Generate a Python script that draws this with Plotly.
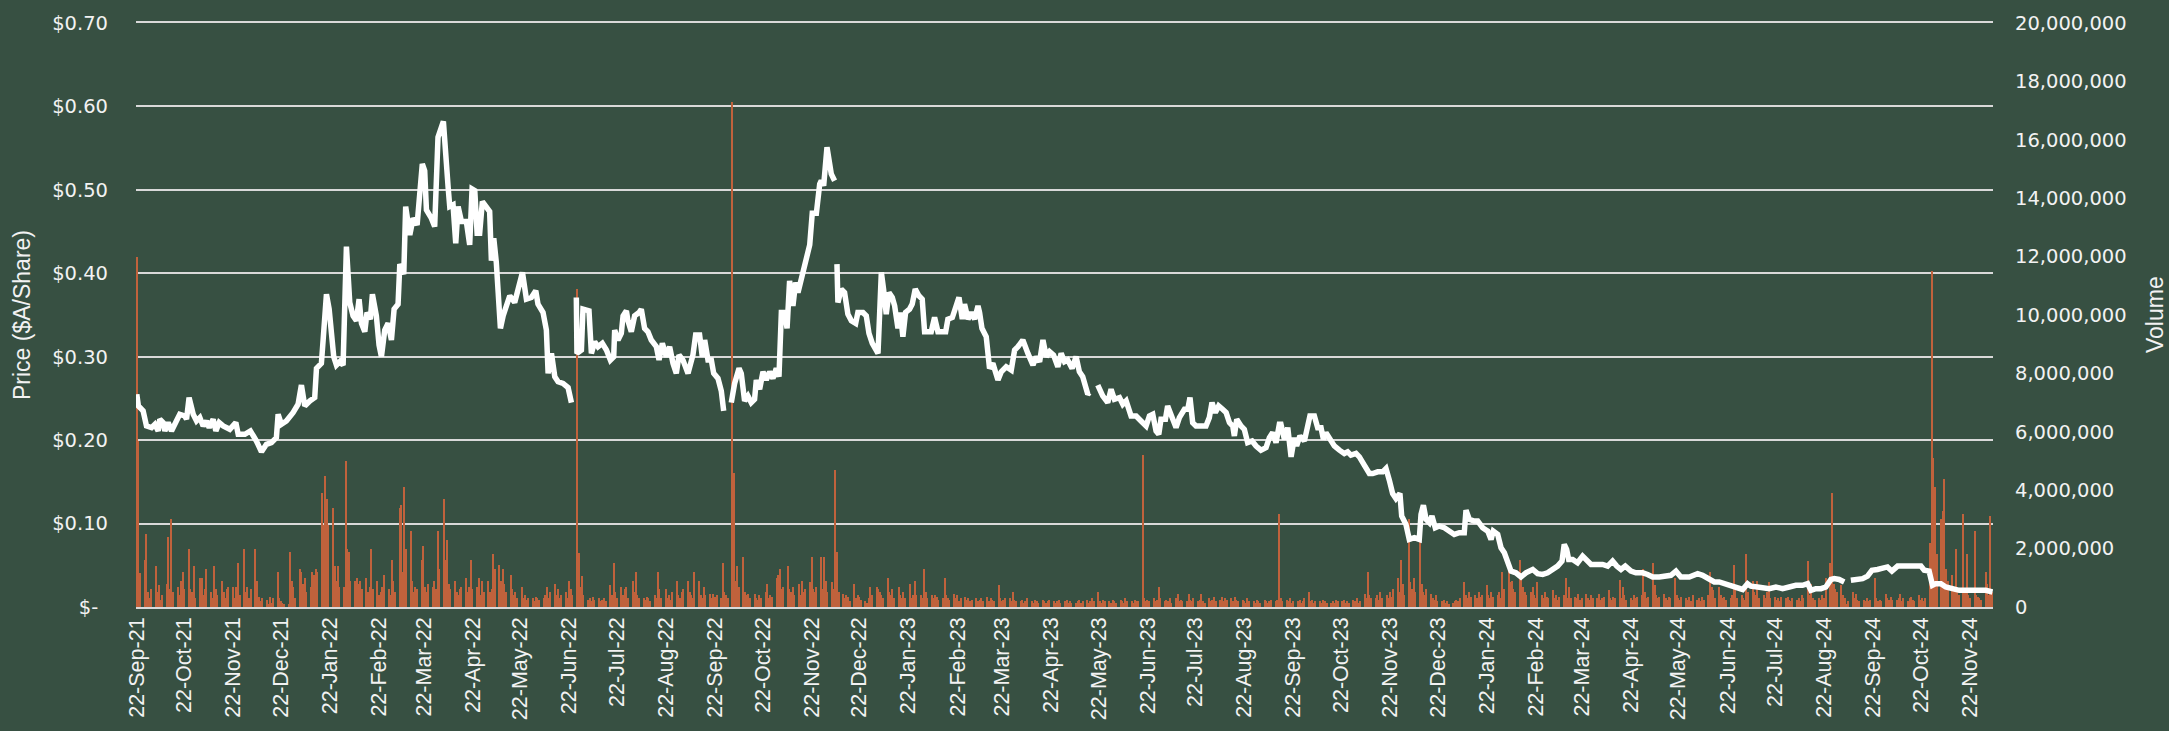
import pandas as pd
import plotly.graph_objects as go

# ---------------- data ----------------
START = "2021-09-22"
END = "2024-12-06"

# price line: (days since 22-Sep-21, price $A) ; segments separated by gaps in the data
price_seg_1 = [
    (0, 0.255), (1, 0.241), (4, 0.235), (6.1, 0.217), (9.3, 0.215), (11.4, 0.219), (13.5, 0.211),
    (14.5, 0.225), (16.6, 0.221), (17.7, 0.211), (19.8, 0.221), (21.9, 0.211), (25.0, 0.223),
    (27.1, 0.231), (30.3, 0.229), (31.4, 0.225), (33.0, 0.251), (35.6, 0.231), (37.7, 0.223),
    (39.8, 0.227), (41.9, 0.217), (44.0, 0.223), (45.7, 0.215), (48.2, 0.225), (49.9, 0.211),
    (52.0, 0.221), (54.5, 0.217), (58.7, 0.213), (62.5, 0.221), (64.0, 0.207), (68.2, 0.207),
    (71.7, 0.211), (75.5, 0.199), (78.7, 0.186), (81.8, 0.195), (85.0, 0.197), (88.1, 0.203),
    (89.2, 0.231), (91.3, 0.219), (94.4, 0.223), (98.6, 0.233), (101.8, 0.243), (103.9, 0.266),
    (106.0, 0.241), (109.2, 0.247), (112.3, 0.251), (113.4, 0.286), (116.5, 0.292), (117.6, 0.320),
    (119.7, 0.375), (121.4, 0.357), (124.3, 0.300), (126.0, 0.290), (128.1, 0.294), (130.2, 0.290),
    (132.3, 0.432), (134.4, 0.365), (136.5, 0.349), (138.6, 0.343), (140.3, 0.369), (141.8, 0.340),
    (143.9, 0.330), (145.3, 0.353), (147.4, 0.345), (148.7, 0.375), (151.2, 0.349), (152.9, 0.314),
    (154.4, 0.300), (156.5, 0.332), (158.6, 0.340), (160.7, 0.320), (162.4, 0.357), (164.9, 0.363),
    (166.0, 0.411), (168.5, 0.399), (169.7, 0.480), (172.3, 0.446), (174.4, 0.466), (176.9, 0.458),
    (180.2, 0.531), (181.7, 0.523), (182.8, 0.476), (185.9, 0.466), (188.0, 0.456), (190.1, 0.563),
    (193.5, 0.582), (196.5, 0.503), (197.5, 0.480), (199.6, 0.482), (201.3, 0.436), (202.8, 0.480),
    (204.9, 0.462), (208.0, 0.462), (210.1, 0.434), (211.6, 0.501), (213.3, 0.499), (214.8, 0.448),
    (216.4, 0.448), (218.1, 0.486), (220.6, 0.478), (222.7, 0.474), (223.8, 0.415), (225.3, 0.442),
    (226.9, 0.413), (229.5, 0.334), (231.2, 0.349), (233.3, 0.363), (235.4, 0.373), (238.5, 0.365),
    (240.6, 0.381), (243.4, 0.401), (245.9, 0.369), (249.0, 0.371), (251.8, 0.379), (253.2, 0.363),
    (256.4, 0.353), (258.5, 0.332), (259.6, 0.280), (261.7, 0.304), (263.8, 0.276), (265.9, 0.270),
    (269.0, 0.268), (272.2, 0.263), (274.3, 0.245),
]
price_seg_2 = [
    (277.4, 0.371), (277.8, 0.304), (280.6, 0.308), (281.6, 0.357), (285.4, 0.355), (286.9, 0.304),
    (289.0, 0.318), (291.1, 0.312), (293.8, 0.316), (296.4, 0.308), (298.9, 0.296), (301.0, 0.300),
    (301.6, 0.332), (303.7, 0.320), (305.8, 0.328), (306.9, 0.349), (309.0, 0.355), (310.0, 0.343),
    (312.1, 0.330), (314.2, 0.349), (317.0, 0.353), (318.4, 0.357), (320.5, 0.334), (322.6, 0.330),
    (324.7, 0.320), (327.9, 0.312), (329.6, 0.296), (331.7, 0.316), (334.2, 0.300), (336.3, 0.312),
    (338.4, 0.292), (340.5, 0.280), (342.2, 0.302), (344.7, 0.296), (347.9, 0.280), (351.0, 0.302),
    (352.7, 0.326), (355.2, 0.326), (356.9, 0.300), (358.4, 0.320), (360.5, 0.296), (362.6, 0.296),
    (364.1, 0.280), (366.8, 0.274), (368.9, 0.259), (370.4, 0.235),
]
price_seg_3 = [
    (375.2, 0.245), (377.3, 0.268), (380.1, 0.286), (381.5, 0.280), (383.6, 0.247), (385.7, 0.253),
    (387.8, 0.245), (389.9, 0.249), (391.0, 0.272), (393.1, 0.261), (395.2, 0.282), (397.3, 0.272),
    (399.4, 0.282), (401.5, 0.274), (403.6, 0.286), (405.3, 0.276), (406.8, 0.353), (408.9, 0.353),
    (410.4, 0.334), (412.0, 0.391), (414.1, 0.361), (415.8, 0.389), (417.3, 0.377), (419.4, 0.393),
    (421.5, 0.411), (423.6, 0.422), (424.7, 0.434), (426.3, 0.472), (428.9, 0.472), (431.0, 0.507),
    (432.0, 0.511), (433.5, 0.505), (435.6, 0.551), (438.3, 0.519), (440.4, 0.511),
]
price_seg_4 = [
    (441.9, 0.411), (442.5, 0.365), (444.6, 0.381), (446.7, 0.377), (448.8, 0.351), (451.0, 0.343),
    (453.7, 0.340), (455.1, 0.353), (458.3, 0.353), (460.4, 0.349), (462.1, 0.328), (464.2, 0.316),
    (467.8, 0.304), (469.9, 0.401), (471.3, 0.381), (473.0, 0.351), (474.7, 0.377), (476.8, 0.371),
    (478.3, 0.361), (480.4, 0.334), (481.9, 0.353), (483.5, 0.324), (485.2, 0.353), (487.7, 0.357),
    (489.4, 0.363), (491.3, 0.381), (493.6, 0.373), (495.7, 0.369), (497.2, 0.330), (501.4, 0.330),
    (503.5, 0.347), (505.6, 0.330), (510.5, 0.330), (511.9, 0.345), (514.7, 0.347), (516.8, 0.357),
    (518.9, 0.371), (521.0, 0.345), (522.4, 0.363), (524.6, 0.345), (526.7, 0.353), (528.8, 0.345),
    (530.9, 0.361), (531.9, 0.353), (533.4, 0.334), (536.1, 0.324), (538.2, 0.286), (540.3, 0.292),
    (543.5, 0.272), (545.6, 0.282), (548.7, 0.288), (551.9, 0.284), (554.0, 0.308), (556.1, 0.312),
    (559.2, 0.320), (562.4, 0.304), (565.6, 0.290), (567.7, 0.300), (569.8, 0.294), (571.9, 0.320),
    (574.0, 0.300), (576.1, 0.306), (578.6, 0.302), (581.3, 0.288), (583.4, 0.304), (585.5, 0.294),
    (587.5, 0.296), (590.3, 0.286), (592.8, 0.300), (594.9, 0.282), (597.0, 0.276), (600.2, 0.255),
    (601.2, 0.257),
]
price_seg_5 = [
    (606.5, 0.266), (609.6, 0.253), (612.8, 0.245), (614.9, 0.261), (617.0, 0.249), (620.2, 0.251),
    (622.3, 0.243), (624.4, 0.247), (627.5, 0.229), (630.7, 0.229), (633.8, 0.223), (637.0, 0.217),
    (639.1, 0.229), (641.2, 0.231), (643.3, 0.211), (645.0, 0.207), (646.4, 0.225), (649.2, 0.225),
    (650.6, 0.241), (652.8, 0.231), (655.9, 0.215), (658.0, 0.227), (661.2, 0.237), (663.3, 0.237),
    (664.7, 0.251), (666.4, 0.221), (668.5, 0.217), (671.7, 0.217), (674.8, 0.217), (676.9, 0.227),
    (678.6, 0.245), (680.7, 0.233), (682.8, 0.241), (685.3, 0.237), (687.5, 0.233), (689.6, 0.221),
    (691.7, 0.217), (692.7, 0.205), (694.2, 0.225), (696.9, 0.217), (699.0, 0.213), (701.1, 0.197),
    (703.9, 0.199), (706.4, 0.193), (709.5, 0.188), (712.7, 0.191), (714.8, 0.203), (716.9, 0.209),
    (719.0, 0.197), (721.1, 0.219), (722.1, 0.219), (724.3, 0.201), (726.4, 0.215), (728.5, 0.180),
    (730.6, 0.203), (732.0, 0.193), (734.1, 0.205), (736.9, 0.199), (739.0, 0.219), (740.4, 0.229),
    (743.2, 0.229), (745.3, 0.215), (747.4, 0.215), (748.9, 0.201), (750.5, 0.209), (753.1, 0.201),
    (755.8, 0.193), (759.0, 0.188), (762.1, 0.184), (764.2, 0.186), (766.3, 0.182), (769.5, 0.184),
    (771.6, 0.180), (774.7, 0.170), (777.9, 0.160), (780.0, 0.160), (783.2, 0.162), (786.3, 0.162),
    (788.4, 0.166), (790.5, 0.152), (792.6, 0.136), (794.7, 0.130), (797.2, 0.136), (798.3, 0.109),
    (801.0, 0.099), (803.1, 0.081), (806.3, 0.083), (809.4, 0.081), (810.5, 0.111), (812.0, 0.122),
    (813.7, 0.105), (815.8, 0.101), (817.4, 0.109), (819.5, 0.095), (822.1, 0.097), (825.2, 0.095),
    (828.4, 0.091), (831.5, 0.087), (834.7, 0.089), (837.8, 0.089), (838.9, 0.116), (841.0, 0.105),
    (844.1, 0.103), (846.3, 0.103), (849.4, 0.095), (852.6, 0.091), (854.7, 0.081), (856.1, 0.091),
    (858.9, 0.087), (861.0, 0.071), (863.1, 0.065), (865.2, 0.055), (867.3, 0.043), (870.4, 0.041),
    (873.6, 0.036), (876.7, 0.041), (881.0, 0.045), (884.1, 0.040), (887.3, 0.039), (890.4, 0.041),
    (893.6, 0.045), (896.7, 0.049), (899.5, 0.055), (900.9, 0.075), (902.4, 0.069), (903.7, 0.057),
    (906.2, 0.057), (909.3, 0.053), (912.5, 0.061), (915.0, 0.057), (917.8, 0.051), (920.9, 0.051),
    (925.1, 0.051), (928.3, 0.049), (931.4, 0.055), (934.0, 0.049), (936.7, 0.045), (939.4, 0.049),
    (943.0, 0.043), (946.1, 0.041), (950.4, 0.041), (953.5, 0.039), (956.7, 0.036), (960.9, 0.036),
    (965.1, 0.037), (968.2, 0.038), (971.4, 0.043), (974.5, 0.036), (979.8, 0.036), (985.1, 0.040),
    (988.2, 0.038), (992.4, 0.034), (995.6, 0.030), (998.7, 0.030), (1001.9, 0.028), (1005.0, 0.026),
    (1008.2, 0.024), (1013.5, 0.021), (1016.6, 0.028), (1018.7, 0.025), (1022.9, 0.024), (1027.1, 0.022),
    (1030.3, 0.022), (1034.5, 0.024), (1038.7, 0.022), (1042.9, 0.024), (1047.1, 0.026), (1051.3, 0.026),
    (1054.5, 0.028), (1056.6, 0.020), (1059.7, 0.022), (1062.9, 0.022), (1066.0, 0.024), (1069.2, 0.033),
    (1071.3, 0.034), (1074.4, 0.033), (1077.6, 0.030),
]
price_seg_6 = [
    (1081.8, 0.032), (1085.0, 0.033), (1089.2, 0.034), (1092.3, 0.037), (1095.1, 0.044), (1098.6, 0.045),
    (1101.8, 0.047), (1104.9, 0.048), (1107.7, 0.043), (1111.3, 0.049), (1114.4, 0.049), (1118.6, 0.049),
    (1122.8, 0.048), (1126.0, 0.049), (1128.1, 0.044), (1131.2, 0.043), (1133.3, 0.026), (1135.4, 0.028),
    (1138.6, 0.028), (1141.7, 0.024), (1145.9, 0.022), (1150.2, 0.020), (1154.4, 0.020), (1158.6, 0.020),
    (1162.8, 0.021), (1167.0, 0.020), (1171.2, 0.018),
]
price_segments = [price_seg_1, price_seg_2, price_seg_3, price_seg_4, price_seg_5, price_seg_6]

# daily volume (thousands of shares), one row per trading week (Mon..Fri); first week starts Wed 22-Sep-21
volume_k_by_week = [
    [12000, 5700, 1150],
    [1600, 2500, 500, 300, 600], [1400, 500, 750, 250, 400], [800, 2400, 600, 3000, 500],
    [700, 400, 900, 1200, 600], [2000, 600, 500, 1400, 300], [1000, 1000, 400, 600, 1300],
    [500, 300, 1400, 600, 400], [900, 500, 300, 600, 700], [700, 300, 700, 1500, 400],
    [2000, 500, 700, 300, 600], [2000, 900, 350, 200, 300], [250, 100, 350, 150, 300],
    [1200, 300, 200, 150, 100], [100, 1900, 900, 700, 300], [1300, 1200, 800, 1000, 500],
    [700, 1200, 1100, 1300, 1200], [3900, 2800, 4500, 3700, 2800], [3400, 1400, 900, 1400, 700],
    [700, 5000, 2000, 1900, 900], [900, 1000, 800, 900, 600], [1000, 500, 700, 2000, 600],
    [900, 400, 500, 700, 1100], [600, 400, 1600, 900, 500], [3400, 3500, 1200, 4100, 2000],
    [2600, 900, 500, 700, 600], [1600, 2100, 700, 500, 800], [700, 900, 600, 2600, 1300],
    [3700, 1600, 2300, 800, 600], [900, 500, 400, 600, 700], [1000, 500, 700, 1600, 600],
    [700, 1000, 400, 900, 500], [900, 500, 600, 1800, 1300], [1450, 900, 1300, 800, 500],
    [1100, 600, 400, 500, 300], [700, 300, 400, 250, 300], [300, 200, 350, 300, 250],
    [300, 400, 700, 300, 500], [800, 400, 600, 300, 400], [500, 300, 900, 600, 400],
    [10900, 1850, 700, 1050, 400], [250, 300, 200, 350, 250], [300, 200, 250, 300, 200],
    [750, 400, 1500, 500, 300], [700, 400, 600, 700, 300], [900, 500, 1200, 400, 300],
    [300, 250, 350, 300, 200], [400, 300, 1200, 600, 300], [600, 300, 400, 250, 500],
    [900, 400, 300, 500, 600], [900, 500, 400, 300, 1200], [900, 400, 300, 700, 400],
    [450, 300, 450, 350, 400], [300, 1500, 500, 400, 300], [17300, 4600, 900, 1400, 700],
    [1700, 500, 400, 450, 300], [450, 300, 250, 400, 300], [500, 800, 300, 400, 350],
    [1000, 1100, 1300, 600, 700], [1400, 600, 500, 700, 400], [800, 400, 900, 500, 600],
    [850, 1700, 600, 500, 700], [1700, 600, 1700, 900, 500], [850, 600, 4700, 1900, 500],
    [450, 300, 400, 350, 200], [800, 300, 400, 350, 250], [200, 150, 300, 700, 400],
    [700, 600, 500, 400, 300], [1000, 500, 400, 600, 300], [700, 400, 300, 500, 300],
    [800, 300, 400, 900, 400], [400, 300, 1300, 500, 300], [400, 300, 400, 350, 250],
    [300, 1000, 400, 300, 250], [450, 300, 400, 200, 300], [350, 250, 300, 200, 250],
    [300, 200, 250, 300, 200], [350, 200, 300, 250, 200], [750, 300, 200, 250, 300],
    [300, 200, 500, 250, 200], [200, 250, 150, 200, 300], [200, 150, 250, 200, 150],
    [250, 200, 150, 200, 250], [200, 150, 200, 250, 150], [200, 250, 150, 200, 150],
    [150, 200, 250, 150, 200], [250, 150, 200, 300, 200], [500, 200, 150, 250, 200],
    [200, 150, 250, 200, 150], [250, 200, 150, 300, 200], [200, 150, 250, 200, 200],
    [5200, 300, 200, 250, 200], [300, 200, 250, 700, 300], [200, 250, 200, 300, 150],
    [300, 450, 200, 250, 200], [200, 450, 250, 200, 300], [200, 250, 450, 200, 150],
    [300, 200, 250, 350, 200], [250, 350, 200, 300, 250], [300, 200, 350, 250, 200],
    [250, 200, 150, 300, 200], [200, 150, 250, 200, 150], [250, 200, 150, 200, 250],
    [200, 250, 3200, 300, 200], [250, 200, 300, 150, 200], [200, 250, 150, 200, 300],
    [500, 200, 250, 150, 200], [200, 150, 250, 200, 150], [150, 200, 150, 250, 200],
    [200, 250, 150, 200, 150], [250, 200, 300, 150, 200], [450, 300, 1200, 400, 300],
    [300, 400, 250, 500, 300], [400, 300, 500, 350, 600], [1000, 500, 1600, 800, 400],
    [3000, 850, 600, 1000, 500], [2300, 800, 500, 400, 600], [450, 300, 250, 400, 200],
    [200, 250, 150, 200, 100], [150, 200, 250, 200, 300], [870, 400, 300, 500, 350],
    [400, 300, 500, 350, 400], [750, 400, 300, 500, 350], [400, 500, 300, 1200, 600],
    [1300, 850, 900, 600, 500], [1600, 1050, 700, 500, 400], [500, 700, 400, 300, 870],
    [400, 300, 500, 350, 300], [580, 300, 400, 250, 350], [400, 1000, 300, 700, 300],
    [350, 300, 450, 250, 300], [450, 300, 250, 400, 300], [300, 450, 250, 300, 350],
    [580, 300, 250, 350, 300], [930, 300, 700, 400, 250], [300, 250, 400, 300, 350],
    [400, 1300, 500, 300, 350], [1500, 750, 400, 300, 350], [450, 300, 250, 350, 300],
    [1000, 400, 300, 250, 350], [300, 250, 350, 200, 400], [250, 300, 200, 350, 250],
    [400, 1200, 700, 580, 300], [700, 400, 300, 350, 250], [300, 400, 1450, 600, 300],
    [400, 300, 250, 1800, 500], [900, 500, 400, 900, 300], [400, 300, 500, 870, 300],
    [350, 250, 300, 200, 350], [300, 350, 250, 200, 300], [250, 300, 200, 400, 300],
    [1560, 400, 800, 300, 250], [300, 250, 400, 300, 1000], [1500, 3900, 800, 600, 500],
    [750, 400, 300, 100, 200], [520, 300, 450, 250, 200], [250, 200, 300, 200, 250],
    [1000, 300, 200, 250, 200], [450, 300, 230, 350, 250], [250, 300, 450, 200, 300],
    [200, 300, 350, 250, 200], [400, 250, 300, 200, 300], [2200, 11500, 5100, 4100, 1800],
    [3000, 3300, 4400, 1300, 900], [1100, 600, 2000, 500, 400], [3200, 500, 1800, 400, 300],
    [2600, 400, 350, 300, 250], [1200, 800, 400, 3100, 500],
]

price_ticks = [0, 0.1, 0.2, 0.3, 0.4, 0.5, 0.6, 0.7]
price_tick_text = ["$-\u2002", "$0.10", "$0.20", "$0.30", "$0.40", "$0.50", "$0.60", "$0.70"]
volume_ticks = [0, 2e6, 4e6, 6e6, 8e6, 10e6, 12e6, 14e6, 16e6, 18e6, 20e6]
volume_tick_text = ["0", "2,000,000", "4,000,000", "6,000,000", "8,000,000", "10,000,000",
                    "12,000,000", "14,000,000", "16,000,000", "18,000,000", "20,000,000"]
x_tick_dates = pd.date_range("2021-09-22", "2024-11-22", freq=pd.DateOffset(months=1))
x_tick_text = [d.strftime("%d-%b-%y") for d in x_tick_dates]

# ---------------- build series ----------------
start = pd.Timestamp(START)
px_x, px_y = [], []
for i, seg in enumerate(price_segments):
    if i > 0:
        px_x.append(start + pd.Timedelta(days=seg[0][0] - 0.5))
        px_y.append(None)
    for d, p in seg:
        px_x.append(start + pd.Timedelta(days=d))
        px_y.append(p)

vol_dates = pd.bdate_range(START, END)
vol_values = [v * 1000 for week in volume_k_by_week for v in week]
n = min(len(vol_dates), len(vol_values))
vol_dates = vol_dates[:n]
vol_values = vol_values[:n]

# ---------------- style ----------------
BG = "#375042"
GRID = "#D9D9D9"
TXT = "#F2F2F2"
BAR = "#C0623C"
NUM_FONT = dict(family="DejaVu Sans", size=19.5, color=TXT)
LBL_FONT = dict(family="Liberation Sans, Arial, sans-serif", size=21.5, color=TXT)

fig = go.Figure()
fig.add_trace(go.Bar(
    x=vol_dates, y=vol_values, yaxis="y", name="Volume",
    marker=dict(color=BAR, line=dict(width=0)), width=0.9 * 86400000,
))
fig.add_trace(go.Scatter(
    x=px_x, y=px_y, yaxis="y2", mode="lines", name="Price",
    line=dict(color="#FFFFFF", width=5.5), connectgaps=False,
))

fig.update_layout(
    width=2169, height=731,
    margin=dict(l=136, r=176, t=23, b=124),
    paper_bgcolor=BG, plot_bgcolor=BG,
    showlegend=False,
    bargap=0,
    xaxis=dict(
        type="date",
        range=[start - pd.Timedelta(hours=12), pd.Timestamp(END) + pd.Timedelta(hours=12)],
        tickvals=list(x_tick_dates), ticktext=x_tick_text, tickangle=-90,
        showgrid=False, zeroline=False,
        showline=True, mirror=True, linecolor=GRID, linewidth=1.6,
        ticks="", tickfont=LBL_FONT, ticklabelstandoff=0, automargin=False,
    ),
    yaxis=dict(
        side="right", range=[0, 20e6],
        tickvals=volume_ticks, ticktext=volume_tick_text,
        showgrid=False, zeroline=False, showline=False, ticks="",
        tickfont=NUM_FONT, ticklabelstandoff=21, automargin=False,
    ),
    yaxis2=dict(
        overlaying="y", side="left", range=[0, 0.7],
        tickvals=price_ticks, ticktext=price_tick_text,
        showgrid=True, gridcolor=GRID, gridwidth=1.6,
        zeroline=False, showline=False, ticks="",
        tickfont=NUM_FONT, ticklabelstandoff=27, automargin=False,
    ),
    annotations=[
        dict(text="Price ($A/Share)", xref="paper", yref="paper", x=(22 - 136) / 1857, y=0.5,
             xanchor="center", yanchor="middle", textangle=-90, showarrow=False,
             font=dict(family="Liberation Sans, Arial, sans-serif", size=23, color=TXT)),
        dict(text="Volume", xref="paper", yref="paper", x=(2155 - 136) / 1857, y=0.5,
             xanchor="center", yanchor="middle", textangle=-90, showarrow=False,
             font=dict(family="Liberation Sans, Arial, sans-serif", size=23, color=TXT)),
    ],
)

fig.write_html(
    "out.html",
    config={"displayModeBar": False},
    post_script="document.body.style.margin='0px';document.body.style.overflow='hidden';",
)
